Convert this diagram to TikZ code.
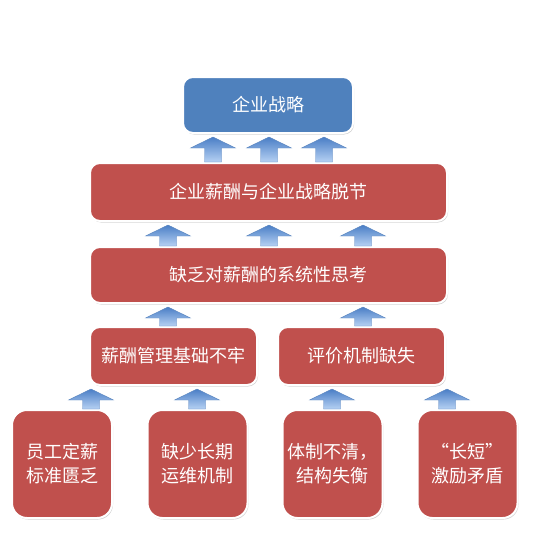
\documentclass[tikz,border=0pt]{standalone}
\usepackage{fontspec}
\newfontfamily\cjk{Noto Sans CJK SC}
\usetikzlibrary{positioning,shadows,calc}
\definecolor{boxred}{HTML}{C0504D}
\definecolor{boxblue}{HTML}{4F81BD}
\definecolor{arrtop}{HTML}{4A7EC6}
\definecolor{arrbot}{HTML}{B6D1F3}
\definecolor{arrline}{HTML}{5A85BE}
% block arrow at x=#1 from node #2 up to node #3
\newcommand{\uparr}[3]{%
  \path[uparrow] let \p1=(#2.north), \p2=(#3.south) in
    (#1pt-8.5pt,\y1) -- (#1pt-8.5pt,\y2-14pt) -- (#1pt-22.5pt,\y2-14pt)
    -- (#1pt,\y2-3pt) -- (#1pt+22.5pt,\y2-14pt) -- (#1pt+8.5pt,\y2-14pt)
    -- (#1pt+8.5pt,\y1) -- cycle;}

\begin{document}
\begin{tikzpicture}
    [x=1pt,y=-1pt,
    every node/.style={rectangle,draw=white,line width=2pt,text=white,
    align=center,node font=\cjk\fontsize{18}{24}\selectfont,
    drop shadow={shadow xshift=1pt,shadow yshift=-1.5pt,opacity=.35}},
    goal/.style={fill=boxblue,rounded corners=10pt},
    cause/.style={fill=boxred,rounded corners=10pt},
    root/.style={fill=boxred,rounded corners=15pt,inner xsep=0pt,
    minimum width=100pt,minimum height=108pt},
    uparrow/.style={top color=arrtop,bottom color=arrbot,draw=arrline,
    line width=.4pt}]
    \useasboundingbox (0,0) rectangle (537,543);
    % upper levels
    \node[goal,minimum width=170pt,minimum height=56pt] (a) at (268,105) {企业战略};
    \node[cause,minimum width=357pt,minimum height=58pt] (b) at (268.5,192) {企业薪酬与企业战略脱节};
    \node[cause,minimum width=357pt,minimum height=56pt] (c) at (268.5,275) {缺乏对薪酬的系统性思考};
    \node[cause,minimum width=167pt,minimum height=58pt] (d) at (173.5,356) {薪酬管理基础不牢};
    \node[cause,minimum width=167pt,minimum height=58pt] (e) at (361.5,356) {评价机制缺失};
    % roots
    \node[root] (f) at (62,464) {员工定薪\\标准匮乏};
    \node[root] (g) at (197.5,464) {缺少长期\\运维机制};
    \node[root] (h) at (332.5,464) {体制不清，\\结构失衡};
    \node[root] (i) at (467.5,464) {“长短”\\激励矛盾};
    % arrows
    \uparr{213}{b}{a} \uparr{269}{b}{a} \uparr{324}{b}{a}
    \uparr{168}{c}{b} \uparr{269}{c}{b} \uparr{363}{c}{b}
    \uparr{168}{d}{c} \uparr{363}{e}{c}
    \uparr{91}{f}{d} \uparr{197}{g}{d}
    \uparr{332}{h}{e} \uparr{447}{i}{e}
  \end{tikzpicture}
\end{document}
